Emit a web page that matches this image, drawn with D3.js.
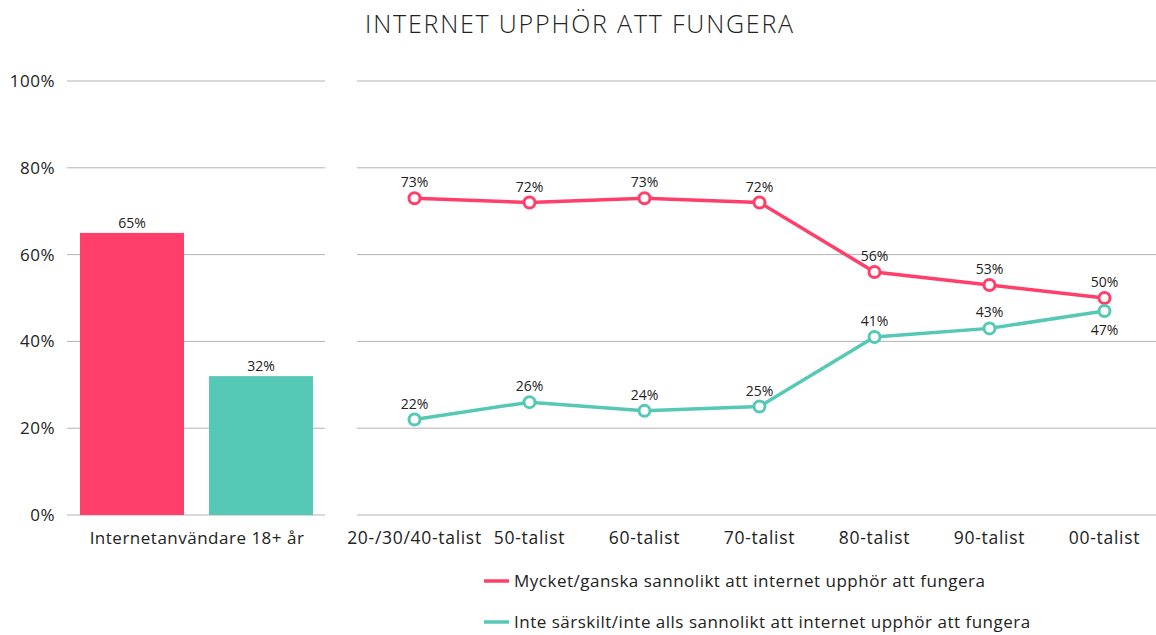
<!DOCTYPE html>
<html>
<head>
<meta charset="utf-8">
<script src="https://cdn.jsdelivr.net/npm/d3@7"></script>
<style>
  body { margin: 0; background: #fff; font-family: "Open Sans", Roboto, sans-serif; }
  text { fill: #222; }
</style>
</head>
<body>
<div id="chart"></div>
<script>
// data
const barCategory = "Internetanvändare 18+ år";
const barValues = [65, 32];
const generations = ["20-/30/40-talist", "50-talist", "60-talist", "70-talist", "80-talist", "90-talist", "00-talist"];
const likely = [73, 72, 73, 72, 56, 53, 50];
const unlikely = [22, 26, 24, 25, 41, 43, 47];
const seriesNames = [
  "Mycket/ganska sannolikt att internet upphör att fungera",
  "Inte särskilt/inte alls sannolikt att internet upphör att fungera"
];
const yTicks = [0, 20, 40, 60, 80, 100];

const colors = ["#ff3f69", "#56c8b6"];
const svgWidth = 1156, svgHeight = 635;

const svg = d3.select("#chart").append("svg")
  .attr("width", svgWidth)
  .attr("height", svgHeight);

// title
svg.append("text")
  .attr("x", 580).attr("y", 33)
  .attr("text-anchor", "middle")
  .attr("font-size", 25)
  .attr("font-weight", 300)
  .attr("letter-spacing", 1.8)
  .text("INTERNET UPPHÖR ATT FUNGERA");

const y = d3.scaleLinear().domain([0, 100]).range([515, 81]);

// y axis labels
svg.selectAll(".ytick").data(yTicks).enter().append("text")
  .attr("x", 55).attr("y", d => y(d) + 6)
  .attr("text-anchor", "end")
  .attr("font-size", 17)
  .attr("letter-spacing", 0.5)
  .text(d => d + "%");

// grids
function grid(x0, x1) {
  svg.append("g").selectAll("line").data(yTicks).enter().append("line")
    .attr("x1", x0).attr("x2", x1)
    .attr("y1", d => y(d)).attr("y2", d => y(d))
    .attr("stroke", "#b3b3b3").attr("stroke-width", 1);
}
grid(67, 325);
grid(357, 1156);

// left panel: bars
const xBar = d3.scaleBand().domain([0, 1]).range([80, 313]).paddingInner(0.194).paddingOuter(0);
svg.selectAll(".bar").data(barValues).enter().append("rect")
  .attr("x", (d, i) => xBar(i))
  .attr("width", xBar.bandwidth())
  .attr("y", d => y(d))
  .attr("height", d => y(0) - y(d))
  .attr("fill", (d, i) => colors[i]);

svg.selectAll(".barlabel").data(barValues).enter().append("text")
  .attr("x", (d, i) => xBar(i) + xBar.bandwidth() / 2)
  .attr("y", d => y(d) - 5)
  .attr("text-anchor", "middle")
  .attr("font-size", 14)
  .text(d => d + "%");

svg.append("text")
  .attr("x", 197).attr("y", 544)
  .attr("text-anchor", "middle")
  .attr("font-size", 17)
  .attr("letter-spacing", 0.5)
  .text(barCategory);

// right panel: lines
const x = d3.scaleBand().domain(generations).range([357, 1162]);
const cx = d => x(d) + x.bandwidth() / 2;

svg.selectAll(".xlabel").data(generations).enter().append("text")
  .attr("x", d => cx(d)).attr("y", 544)
  .attr("text-anchor", "middle")
  .attr("font-size", 17.5)
  .attr("letter-spacing", 0.7)
  .text(d => d);

const line = d3.line().x((d, i) => cx(generations[i])).y(d => y(d));

[likely, unlikely].forEach(function (series, s) {
  svg.append("path")
    .datum(series)
    .attr("d", line)
    .attr("fill", "none")
    .attr("stroke", colors[s])
    .attr("stroke-width", 3.5);

  svg.append("g").selectAll("circle").data(series).enter().append("circle")
    .attr("cx", (d, i) => cx(generations[i]))
    .attr("cy", d => y(d))
    .attr("r", 5.5)
    .attr("fill", "#fff")
    .attr("stroke", colors[s])
    .attr("stroke-width", 3);

  svg.append("g").selectAll("text").data(series).enter().append("text")
    .attr("x", (d, i) => cx(generations[i]))
    .attr("y", (d, i) => (s === 1 && i === series.length - 1) ? y(d) + 24 : y(d) - 11)
    .attr("text-anchor", "middle")
    .attr("font-size", 14)
    .text(d => d + "%");
});

// legend
seriesNames.forEach(function (name, i) {
  const ly = 581 + i * 41;
  svg.append("line")
    .attr("x1", 484).attr("x2", 509)
    .attr("y1", ly).attr("y2", ly)
    .attr("stroke", colors[i]).attr("stroke-width", 3.5);
  svg.append("text")
    .attr("x", 514).attr("y", ly + 6)
    .attr("font-size", 17)
    .attr("letter-spacing", 0.5)
    .text(name);
});
</script>
</body>
</html>
